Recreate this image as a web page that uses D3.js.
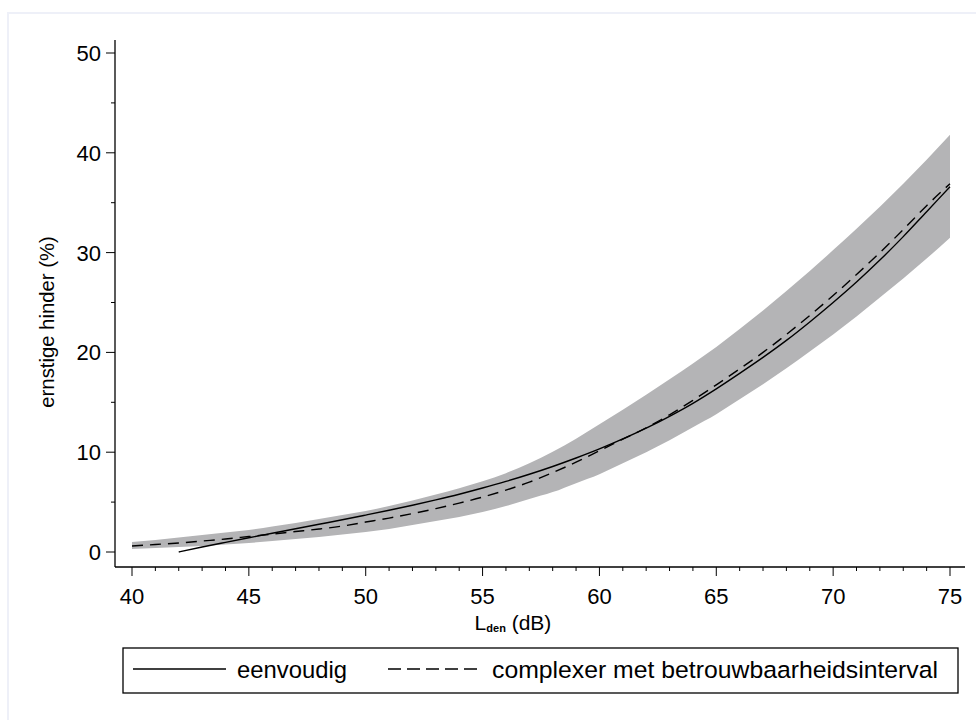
<!DOCTYPE html>
<html lang="nl">
<head>
<meta charset="UTF-8">
<title>Ernstige hinder</title>
<script src="https://cdn.jsdelivr.net/npm/d3@7"></script>
<style>
	body { margin: 0; background: #fff; }
	text { font-family: "Liberation Sans", Arial, sans-serif; fill: #000; }
</style>
</head>
<body>
<script>
// Lden waarden (dB)
var ldenBand = d3.range(40, 76);          // 40 .. 75
var ldenSimple = d3.range(42, 76);        // 42 .. 75

// eenvoudig model (%)
var simple = [0, 0.5, 0.97, 1.43, 1.88, 2.33, 2.78, 3.23, 3.7, 4.18, 4.68, 5.22, 5.79, 6.41,
	7.07, 7.79, 8.57, 9.42, 10.33, 11.33, 12.41, 13.6, 14.9, 16.35, 17.9, 19.5, 21.2,
	23.05, 25.0, 27.05, 29.25, 31.6, 34.1, 36.6];

// complexer model (%)
var complex = [0.6, 0.75, 0.9, 1.1, 1.3, 1.55, 1.8, 2.05, 2.3, 2.6, 3.0, 3.4, 3.85, 4.35,
	4.9, 5.5, 6.2, 7.0, 7.95, 9.0, 10.15, 11.3, 12.45, 13.75, 15.2, 16.75, 18.35, 20.0,
	21.8, 23.7, 25.7, 27.8, 30.0, 32.3, 34.7, 36.9];

// betrouwbaarheidsinterval
var upper = [1.0, 1.2, 1.45, 1.7, 1.95, 2.2, 2.55, 2.9, 3.3, 3.7, 4.1, 4.6, 5.15, 5.75, 6.4,
	7.1, 7.9, 8.9, 10.05, 11.35, 12.8, 14.25, 15.75, 17.3, 18.9, 20.55, 22.35, 24.2, 26.15,
	28.15, 30.25, 32.4, 34.6, 36.9, 39.3, 41.8];
var lower = [0.3, 0.4, 0.5, 0.6, 0.75, 0.9, 1.1, 1.3, 1.5, 1.75, 2.0, 2.3, 2.7, 3.1, 3.5,
	4.0, 4.6, 5.3, 6.0, 6.9, 7.8, 8.9, 10.0, 11.2, 12.5, 13.8, 15.3, 16.8, 18.4, 20.1,
	21.8, 23.6, 25.5, 27.4, 29.4, 31.5];

var xTicks = [40, 45, 50, 55, 60, 65, 70, 75];
var yTicks = [0, 10, 20, 30, 40, 50];
var legendLabels = ['eenvoudig', 'complexer met betrouwbaarheidsinterval'];

var W = 976, H = 720;
var svg = d3.select('body').append('svg')
	.attr('width', W)
	.attr('height', H);

// lichte rand
svg.append('rect')
	.attr('x', 8).attr('y', 13)
	.attr('width', W).attr('height', H)
	.attr('fill', 'none')
	.attr('stroke', '#eef0f8')
	.attr('stroke-width', 2);

var x = d3.scaleLinear().domain([40, 75]).range([132, 950]);
var y = d3.scaleLinear().domain([0, 50]).range([552, 53]);

var axisLeftX = 115, axisBottomY = 567;

// band
var band = d3.area()
	.x(function (d, i) { return x(ldenBand[i]); })
	.y0(function (d, i) { return y(lower[i]); })
	.y1(function (d, i) { return y(upper[i]); })
	.curve(d3.curveMonotoneX);

svg.append('path')
	.datum(upper)
	.attr('d', band)
	.attr('fill', '#b4b4b6');

var line = d3.line().curve(d3.curveMonotoneX);

svg.append('path')
	.datum(simple.map(function (v, i) { return [x(ldenSimple[i]), y(v)]; }))
	.attr('d', line)
	.attr('fill', 'none')
	.attr('stroke', '#000')
	.attr('stroke-width', 1.4);

svg.append('path')
	.datum(complex.map(function (v, i) { return [x(ldenBand[i]), y(v)]; }))
	.attr('d', line)
	.attr('fill', 'none')
	.attr('stroke', '#000')
	.attr('stroke-width', 1.4)
	.attr('stroke-dasharray', '11,7');

// y-as
var yAxis = svg.append('g');
yAxis.append('line')
	.attr('x1', axisLeftX).attr('x2', axisLeftX)
	.attr('y1', 40).attr('y2', axisBottomY)
	.attr('stroke', '#000').attr('stroke-width', 1.3);
yAxis.selectAll('.minor')
	.data(d3.range(5, 50, 10))
	.enter().append('line')
	.attr('x1', axisLeftX - 4).attr('x2', axisLeftX)
	.attr('y1', function (d) { return y(d); })
	.attr('y2', function (d) { return y(d); })
	.attr('stroke', '#000');
yAxis.selectAll('.major')
	.data(yTicks)
	.enter().append('line')
	.attr('x1', axisLeftX - 9).attr('x2', axisLeftX)
	.attr('y1', function (d) { return y(d); })
	.attr('y2', function (d) { return y(d); })
	.attr('stroke', '#000');
yAxis.selectAll('text')
	.data(yTicks)
	.enter().append('text')
	.attr('x', 101)
	.attr('y', function (d) { return y(d) + 8; })
	.attr('text-anchor', 'end')
	.attr('font-size', 22)
	.text(function (d) { return d; });

// x-as
var xAxis = svg.append('g');
xAxis.append('line')
	.attr('x1', axisLeftX).attr('x2', 965)
	.attr('y1', axisBottomY).attr('y2', axisBottomY)
	.attr('stroke', '#000').attr('stroke-width', 1.3);
xAxis.selectAll('.minor')
	.data(d3.range(40, 76).filter(function (d) { return d % 5 !== 0; }))
	.enter().append('line')
	.attr('x1', function (d) { return x(d); })
	.attr('x2', function (d) { return x(d); })
	.attr('y1', axisBottomY).attr('y2', axisBottomY + 4)
	.attr('stroke', '#000');
xAxis.selectAll('.major')
	.data(xTicks)
	.enter().append('line')
	.attr('x1', function (d) { return x(d); })
	.attr('x2', function (d) { return x(d); })
	.attr('y1', axisBottomY).attr('y2', axisBottomY + 9)
	.attr('stroke', '#000');
xAxis.selectAll('text')
	.data(xTicks)
	.enter().append('text')
	.attr('x', function (d) { return x(d); })
	.attr('y', 604)
	.attr('text-anchor', 'middle')
	.attr('font-size', 22)
	.text(function (d) { return d; });

// as-titels
var xt = svg.append('text')
	.attr('x', 513).attr('y', 630)
	.attr('text-anchor', 'middle')
	.attr('font-size', 21);
xt.append('tspan').text('L');
xt.append('tspan').attr('font-size', 11).attr('font-weight', 'bold').attr('dy', 2).text('den');
xt.append('tspan').attr('dy', -2).text(' (dB)');

svg.append('text')
	.attr('transform', 'translate(54,322) rotate(-90)')
	.attr('text-anchor', 'middle')
	.attr('font-size', 20.3)
	.text('ernstige hinder (%)');

// legenda
var lg = svg.append('g');
lg.append('rect')
	.attr('x', 123).attr('y', 648)
	.attr('width', 835).attr('height', 45)
	.attr('fill', '#fff')
	.attr('stroke', '#000')
	.attr('stroke-width', 1.3);
lg.append('line')
	.attr('x1', 133).attr('x2', 226).attr('y1', 669).attr('y2', 669)
	.attr('stroke', '#000').attr('stroke-width', 1.4);
lg.append('line')
	.attr('x1', 388).attr('x2', 482).attr('y1', 669).attr('y2', 669)
	.attr('stroke', '#000').attr('stroke-width', 1.4)
	.attr('stroke-dasharray', '13,6');
lg.selectAll('text')
	.data(legendLabels)
	.enter().append('text')
	.attr('x', function (d, i) { return i === 0 ? 237 : 492; })
	.attr('y', 678)
	.attr('font-size', 24.5)
	.attr('textLength', function (d, i) { return i === 0 ? 110 : 446; })
	.attr('lengthAdjust', 'spacingAndGlyphs')
	.text(function (d) { return d; });
</script>
</body>
</html>
